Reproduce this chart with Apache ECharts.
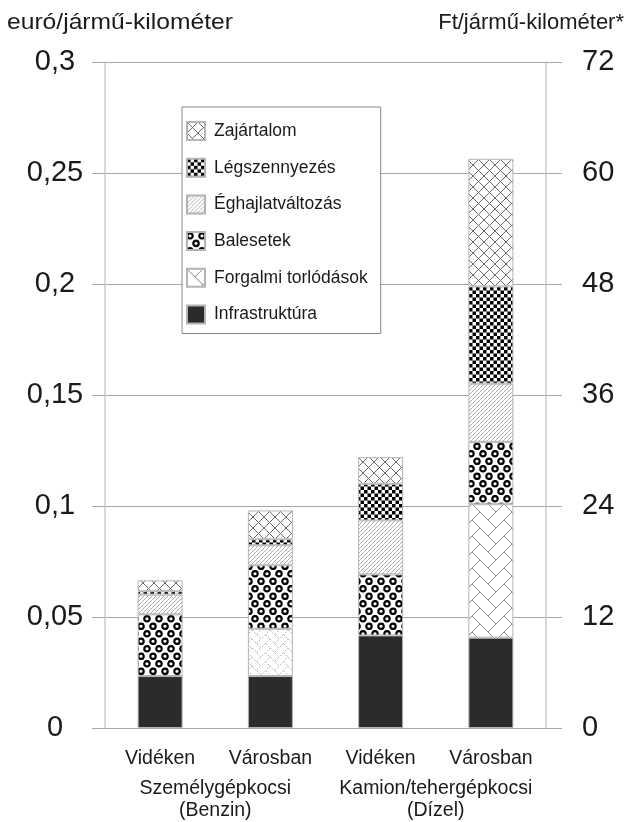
<!DOCTYPE html>
<html><head><meta charset="utf-8">
<script src="https://cdn.jsdelivr.net/npm/echarts@6/dist/echarts.min.js"></script>
<style>html,body{margin:0;padding:0;background:#fff}#c{width:626px;height:822px}</style>
</head><body><div id="c"></div>
<script>
// ---- data ----
const categories = ['Vidéken', 'Városban', 'Vidéken', 'Városban'];
const groups = ['Személygépkocsi\n(Benzin)', 'Kamion/tehergépkocsi\n(Dízel)'];
const seriesNames = ['Infrastruktúra', 'Forgalmi torlódások', 'Balesetek', 'Éghajlatváltozás', 'Légszennyezés', 'Zajártalom'];
const infrastruktura = [0.0234, 0.0234, 0.0417, 0.0407];
const forgalmi = [null, 0.0213, null, 0.0601];
const balesetek = [0.0278, 0.0286, 0.0275, 0.0281];
const eghajlat = [0.0089, 0.0090, 0.0243, 0.0262];
const legszennyezes = [0.0015, 0.0027, 0.0165, 0.0438];
const zajartalom = [0.0049, 0.0130, 0.0120, 0.0575];
const leftTicks = ['0', '0,05', '0,1', '0,15', '0,2', '0,25', '0,3'];
const rightTicks = ['0', '12', '24', '36', '48', '60', '72'];
const leftTitle = 'euró/jármű-kilométer';
const rightTitle = 'Ft/jármű-kilométer*';

// ---- patterns ----
function tile(w, h, draw) {
  const c = document.createElement('canvas');
  c.width = w; c.height = h;
  const g = c.getContext('2d');
  g.fillStyle = '#fff'; g.fillRect(0, 0, w, h);
  draw(g, w, h);
  return { image: c, repeat: 'repeat' };
}
const FONT = '"Liberation Sans", Arial, sans-serif';
const solidInfra = '#2b2b2b';
const patZaj = tile(11, 11, (g, w, h) => {
  g.strokeStyle = '#6a6a6a'; g.lineWidth = 1;
  for (let k = -1; k <= 1; k++) {
    g.beginPath(); g.moveTo(k * w, 0); g.lineTo(k * w + w, h); g.stroke();
    g.beginPath(); g.moveTo(k * w + w, 0); g.lineTo(k * w, h); g.stroke();
  }
});
const patLeg = tile(7, 7, (g) => {
  g.fillStyle = '#000';
  g.fillRect(0, 0, 3.5, 3.5); g.fillRect(3.5, 3.5, 3.5, 3.5);
});
const patEgh = tile(4, 4, (g, w, h) => {
  g.strokeStyle = '#9a9a9a'; g.lineWidth = 0.8;
  for (let k = -1; k <= 1; k++) {
    g.beginPath(); g.moveTo(k * w - 1, h + 1); g.lineTo(k * w + w + 1, -1); g.stroke();
  }
});
const patBal = tile(12, 15, (g) => {
  g.strokeStyle = '#000'; g.lineWidth = 2.2;
  const pts = [[3, 3.75], [9, 11.25], [15, 3.75], [-3, 11.25], [3, 18.75], [15, 18.75], [-3, -3.75], [9, -3.75]];
  pts.forEach(p => { g.beginPath(); g.arc(p[0], p[1], 2.7, 0, Math.PI * 2); g.stroke(); });
});
function herring(s, color, lw, dash) {
  return tile(2 * s, 2 * s, (g) => {
    g.strokeStyle = color; g.lineWidth = lw;
    if (dash) g.setLineDash(dash);
    for (let yo = -2 * s; yo <= 2 * s; yo += s) {
      g.beginPath(); g.moveTo(0, yo); g.lineTo(s, yo + s); g.lineTo(2 * s, yo); g.stroke();
      g.beginPath(); g.moveTo(s / 2, yo + s / 2); g.lineTo(s, yo); g.stroke();
      g.beginPath(); g.moveTo(1.5 * s, yo + s / 2); g.lineTo(s * 2, yo + s); g.stroke();
    }
  });
}
const patForg = herring(16, '#7a7a7a', 0.9);
const patForgSmall = herring(9, '#b0b0b0', 0.9, [2, 1.5]);

const patterns = [solidInfra, patForg, patBal, patEgh, patLeg, patZaj];
const values = [infrastruktura, forgalmi, balesetek, eghajlat, legszennyezes, zajartalom];

const series = seriesNames.map((name, i) => ({
  name,
  type: 'bar',
  stack: 'total',
  barWidth: 45,
  xAxisIndex: 0,
  yAxisIndex: 0,
  itemStyle: { color: patterns[i], borderColor: '#b4b4b4', borderWidth: 1 },
  emphasis: { disabled: true },
  data: values[i].map((v, j) => (i === 1 && j === 1 && v != null) ? { value: v, itemStyle: { color: patForgSmall } } : v)
}));

const chart = echarts.init(document.getElementById('c'), null, { renderer: 'canvas' });
chart.setOption({
  animation: false,
  backgroundColor: '#fff',
  textStyle: { fontFamily: FONT, color: '#1a1a1a' },
  grid: { left: 105, right: 80, top: 62, bottom: 93.3 },
  legend: {
    data: seriesNames.slice().reverse(),
    orient: 'vertical',
    left: 182, top: 107,
    padding: [14, 13, 9, 4],
    icon: 'rect',
    itemWidth: 18, itemHeight: 18, itemGap: 16.7,
    backgroundColor: '#fff',
    borderColor: '#8a8a8a', borderWidth: 1,
    textStyle: { fontFamily: FONT, fontSize: 17.5, color: '#1a1a1a', padding: [0, 0, 0, 4] },
    selectedMode: false
  },
  xAxis: [
    {
      type: 'category', data: categories, position: 'bottom',
      axisLine: { show: true, lineStyle: { color: '#a8a8a8', width: 1 } },
      axisTick: { show: false },
      axisLabel: { interval: 0, fontFamily: FONT, fontSize: 19.5, color: '#1a1a1a', margin: 21 }
    },
    {
      type: 'category', data: groups, position: 'bottom',
      axisLine: { show: false }, axisTick: { show: false },
      axisLabel: { interval: 0, fontFamily: FONT, fontSize: 19.5, lineHeight: 22.5, color: '#1a1a1a', margin: 49 }
    }
  ],
  yAxis: [
    {
      type: 'value', min: 0, max: 0.3, interval: 0.05, position: 'left',
      axisLine: { show: true, lineStyle: { color: '#cccccc', width: 1.5 } },
      axisTick: { show: true, length: 13, lineStyle: { color: '#a8a8a8', width: 1 } },
      splitLine: { show: true, lineStyle: { color: '#a8a8a8', width: 1 } },
      axisLabel: {
        fontFamily: FONT, fontSize: 29, color: '#1a1a1a', align: 'center', margin: 50,
        formatter: v => leftTicks[Math.round(v / 0.05)]
      }
    },
    {
      type: 'value', min: 0, max: 72, interval: 12, position: 'right',
      axisLine: { show: true, lineStyle: { color: '#cccccc', width: 1.5 } },
      axisTick: { show: true, length: 16, lineStyle: { color: '#a8a8a8', width: 1 } },
      splitLine: { show: false },
      axisLabel: {
        fontFamily: FONT, fontSize: 29, color: '#1a1a1a', align: 'left', margin: 36,
        formatter: v => rightTicks[Math.round(v / 12)]
      }
    }
  ],
  graphic: [
    { type: 'text', x: 7, y: 12, scaleX: 1.12, style: { text: leftTitle, font: '22px ' + FONT, fill: '#1a1a1a' } },
    { type: 'text', right: 2, top: 12, style: { text: rightTitle, font: '22px ' + FONT, fill: '#1a1a1a' } }
  ],
  series
});
</script>
</body></html>
